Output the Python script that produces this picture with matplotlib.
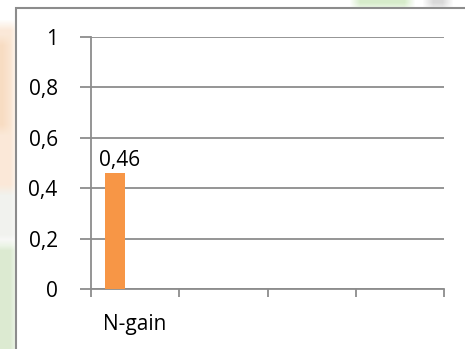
import numpy as np
import matplotlib
matplotlib.use('Agg')
import matplotlib.pyplot as plt
from matplotlib.patches import Rectangle

plt.rcParams['font.family'] = ['Open Sans', 'DejaVu Sans']

categories = ['N-gain', '', '', '']
n_gain = [0.46, 0, 0, 0]
y_ticks = [0, 0.2, 0.4, 0.6, 0.8, 1]
y_labels = ['0', '0,2', '0,4', '0,6', '0,8', '1']

W, H = 465, 349
fig = plt.figure(figsize=(W / 100, H / 100), dpi=100)

# soft backdrop behind the white chart panel
bg = np.ones((H, W, 3))
def paint(x0, x1, y0, y1, hexcol):
    c = np.array(matplotlib.colors.to_rgb(hexcol))
    bg[y0:y1, x0:x1] = c
paint(0, 16, 25, 190, '#fbe9d8')
paint(0, 8, 40, 130, '#f8dcc2')
paint(0, 16, 190, 240, '#f1f2ee')
paint(0, 16, 245, H, '#dcebd2')
paint(355, 410, 0, 8, '#d6ecca')
paint(428, 448, 0, 8, '#d8d8d8')

def box_blur(img, r):
    out = img.copy()
    k = np.ones(2 * r + 1) / (2 * r + 1)
    for ax_ in (0, 1):
        out = np.apply_along_axis(lambda v: np.convolve(np.pad(v, r, mode='edge'), k, mode='valid'), ax_, out)
    return out
bg = box_blur(bg, 5)
fig.figimage(bg, xo=0, yo=0, origin='upper', zorder=0)

# white chart panel with grey border
fig.patches.append(Rectangle((15.5 / W, -0.05), 1.0, 1 - 7.5 / H + 0.05,
                             transform=fig.transFigure, facecolor='white',
                             edgecolor='#8c8c8c', linewidth=1.5, zorder=1))

ax = fig.add_axes([91 / W, (H - 289) / H, (444 - 91) / W, (289 - 37) / H])
ax.set_zorder(2)
ax.patch.set_visible(False)

fs = 15
x = np.arange(len(categories))
bar_w = 0.227
offset = -bar_w
ax.bar(x + offset, n_gain, width=bar_w, color='#f79646', zorder=3)
ax.text(x[0] + offset + 0.05, n_gain[0] + 0.01, f'{n_gain[0]:.2f}'.replace('.', ','),
        ha='center', va='bottom', fontsize=fs, color='black')

ax.set_xlim(-0.5, len(categories) - 0.5)
ax.set_ylim(0, 1)
ax.set_yticks(y_ticks)
ax.set_yticklabels(y_labels, fontsize=fs)
ax.yaxis.grid(True, color='#8c8c8c', linewidth=1.3)
ax.set_axisbelow(True)

ax.set_xticks(np.arange(-0.5, len(categories)), minor=False)
ax.set_xticklabels([])
ax.set_xticks(x, minor=True)
ax.set_xticklabels(categories, minor=True, fontsize=fs)
ax.tick_params(axis='x', which='major', length=6, color='#8c8c8c', width=1.3, direction='out')
ax.tick_params(axis='x', which='minor', length=0, pad=18)
ax.tick_params(axis='y', length=8, color='#8c8c8c', width=1.3, pad=16, direction='out')

for s in ['top', 'right']:
    ax.spines[s].set_visible(False)
for s in ['left', 'bottom']:
    ax.spines[s].set_color('#8c8c8c')
    ax.spines[s].set_linewidth(1.3)

fig.savefig('out.png', dpi=100)
